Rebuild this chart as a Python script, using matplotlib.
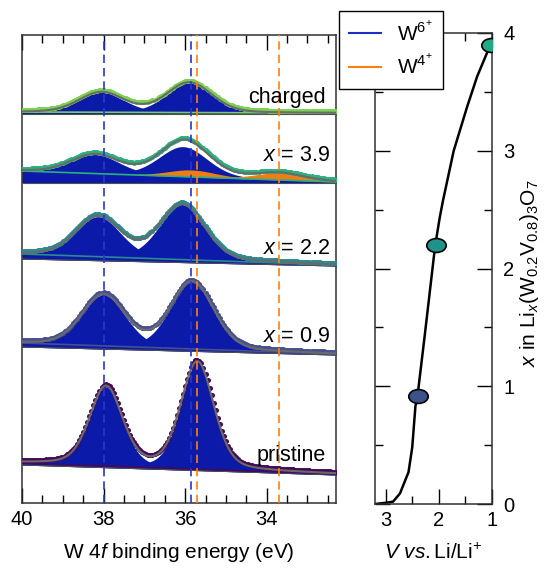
import numpy as np
import matplotlib
matplotlib.use('Agg')
import matplotlib.pyplot as plt
from matplotlib.path import Path
from matplotlib.lines import Line2D
from matplotlib.ticker import MultipleLocator

plt.rcParams['font.family'] = ['Liberation Sans', 'DejaVu Sans']
plt.rcParams['mathtext.fontset'] = 'custom'
plt.rcParams['mathtext.rm'] = 'Liberation Sans'
plt.rcParams['mathtext.it'] = 'Liberation Sans:italic'

# --- XPS W 4f spectra, top to bottom ---
labels = ['charged', '$x$ = 3.9', '$x$ = 2.2', '$x$ = 0.9', 'pristine']
colors = ['#7ad151', '#2ab07f', '#2a8a8e', '#46508f', '#440a58']
bg_left = [391, 332, 249, 160, 40]
bg_right = [390, 321, 238, 149, 29]
floor_left = [389, 320, 244, 156, 38]
floor_right = [389, 320, 237, 148, 28]
w6_pos = [(38.05, 35.90), (38.20, 36.05), (38.13, 36.07), (38.00, 35.83), (37.94, 35.70)]
w6_height = [(20, 30), (19, 30), (40, 55), (51, 67), (79, 107)]
w6_fwhm = [1.3, 1.4, 1.3, 1.25, 0.95]
mix = [0.2, 0.2, 0.2, 0.2, 0.3]
w4_pos = [(), (35.85, 33.70), (), (), ()]
w4_height = [(), (7, 7), (), (), ()]
label_x = [32.56, 32.44, 32.44, 32.44, 32.56]
label_y = [406, 348, 255, 167, 48]

# reference positions of the W6+ / W4+ lines (eV)
w6_lines = [38.0, 35.86]
w4_lines = [35.71, 33.70]

# --- voltage profile ---
volt = [3.2, 3.0, 2.86, 2.73, 2.57, 2.50, 2.44, 2.40, 2.26, 2.07, 1.98, 1.92, 1.72, 1.47, 1.28, 1.03]
xli = [0.0, 0.01, 0.02, 0.09, 0.27, 0.48, 0.83, 0.92, 1.45, 2.19, 2.44, 2.58, 3.0, 3.37, 3.63, 3.9]
pt_volt = [2.40, 2.06, 1.02]
pt_x = [0.92, 2.2, 3.9]
pt_colors = ['#3b528b', '#21918c', '#22a884']

blue_fill = '#0b1aa8'
orange_fill = '#f07d14'
blue_dash = '#2a35d0'
orange_dash = '#ff7f0e'


def pv(e, c, h, w, m):
    d = (e - c) ** 2
    g = np.exp(-4 * np.log(2) * d / w ** 2)
    l = 1.0 / (1 + 4 * d / w ** 2)
    return h * ((1 - m) * g + m * l)


fig = plt.figure(figsize=(5.46, 5.69), dpi=100)
ax = fig.add_axes([22 / 546, 66 / 569, 314 / 546, 468 / 569])
ax2 = fig.add_axes([375 / 546, 65 / 569, 117 / 546, 471 / 569])

E = np.linspace(32.3, 40, 500)
Ed = np.arange(32.3, 40.0, 0.05)

for i in range(len(labels)):
    bg = bg_right[i] + (bg_left[i] - bg_right[i]) * (E - 32.3) / 7.7
    fl = floor_right[i] + (floor_left[i] - floor_right[i]) * (E - 32.3) / 7.7
    total = bg.copy()
    for c, h in zip(w6_pos[i], w6_height[i]):
        comp = pv(E, c, h, w6_fwhm[i], mix[i])
        ax.fill_between(E, fl, bg + comp, color=blue_fill, lw=0, zorder=2)
        total += comp
    for c, h in zip(w4_pos[i], w4_height[i]):
        comp = pv(E, c, h, w6_fwhm[i], mix[i])
        ax.fill_between(E, bg, bg + comp, where=comp > 0.8, color=orange_fill, lw=0, zorder=3)
        total += comp
    ax.plot(E, fl, color='#505050', lw=0.8, zorder=3)
    ax.plot(E, bg, color=colors[i], lw=1.2, zorder=4)
    # measured points
    bgd = bg_right[i] + (bg_left[i] - bg_right[i]) * (Ed - 32.3) / 7.7
    dat = bgd.copy()
    for c, h in zip(list(w6_pos[i]) + list(w4_pos[i]), list(w6_height[i]) + list(w4_height[i])):
        dat += pv(Ed, c, h, w6_fwhm[i], mix[i])
    ax.plot(Ed, dat + 1.5, 'o', ms=3.6, mew=0, color=colors[i], zorder=5)
    ax.plot(E, total, color='#6a6a6a', lw=1.5, zorder=6)
    ax.text(label_x[i], label_y[i], labels[i], ha='right', va='center', fontsize=15.5, zorder=8)

for e in w6_lines:
    ax.axvline(e, color=blue_dash, lw=1.2, dashes=(5, 3), zorder=7)
for e in w4_lines:
    ax.axvline(e, color=orange_dash, lw=1.2, dashes=(5, 3), zorder=7)

ax.set_xlim(40, 32.3)
ax.set_ylim(0, 468)
ax.set_yticks([])
ax.xaxis.set_major_locator(MultipleLocator(2))
ax.xaxis.set_minor_locator(MultipleLocator(0.5))
ax.tick_params(axis='x', which='both', direction='in', top=True, bottom=True, labelsize=14.5, pad=5)
ax.tick_params(axis='x', which='major', length=10.5, width=1)
ax.tick_params(axis='x', which='minor', length=5.5, width=1)
ax.set_xlabel('W 4$f$ binding energy (eV)', fontsize=15, labelpad=9)

# voltage profile
ax2.plot(volt, xli, color='black', lw=1.8, zorder=2)
ell = Path.unit_circle().transformed(matplotlib.transforms.Affine2D().scale(1.4, 1.0))
for v, xv, c in zip(pt_volt, pt_x, pt_colors):
    ax2.plot([v], [xv], marker=ell, ms=14, color=c, mec='black', mew=1.2, ls='none', zorder=3)
ax2.set_xlim(3.2, 1.0)
ax2.set_ylim(0, 4)
ax2.xaxis.set_major_locator(MultipleLocator(1))
ax2.xaxis.set_minor_locator(MultipleLocator(0.5))
ax2.yaxis.set_major_locator(MultipleLocator(1))
ax2.yaxis.set_minor_locator(MultipleLocator(0.5))
ax2.tick_params(which='both', direction='in', top=True, bottom=True, left=True, right=True,
                labelleft=False, labelright=True, labelsize=14.5)
ax2.tick_params(which='major', length=10.5, width=1, pad=5)
ax2.tick_params(axis='y', which='major', pad=8)
ax2.tick_params(which='minor', length=5.5, width=1)
ax2.set_xlabel('$V$ $vs.$Li/Li$^{+}$', fontsize=15, labelpad=9)
ax2.yaxis.set_label_position('right')
ax2.set_ylabel('$x$ in Li$_{x}$(W$_{0.2}$V$_{0.8}$)$_{3}$O$_{7}$', fontsize=15)
ax2.yaxis.set_label_coords(1.22, 0.49)

for a in (ax, ax2):
    for s in a.spines.values():
        s.set_linewidth(1.1)
        s.set_color('#303030')

handles = [Line2D([], [], color='#1f2fc6', lw=1.5), Line2D([], [], color=orange_dash, lw=1.5)]
leg = fig.legend(handles, ['W$^{6^{+}}$', 'W$^{4^{+}}$'], loc='upper left',
                 bbox_to_anchor=(339 / 546, 1 - 11 / 569), borderaxespad=0, fontsize=15,
                 frameon=True, fancybox=False, edgecolor='black', framealpha=1,
                 handlelength=1.5, labelspacing=0.5, borderpad=0.5, handletextpad=0.8)
leg.get_frame().set_linewidth(1.0)

fig.savefig('out.png', dpi=100)
